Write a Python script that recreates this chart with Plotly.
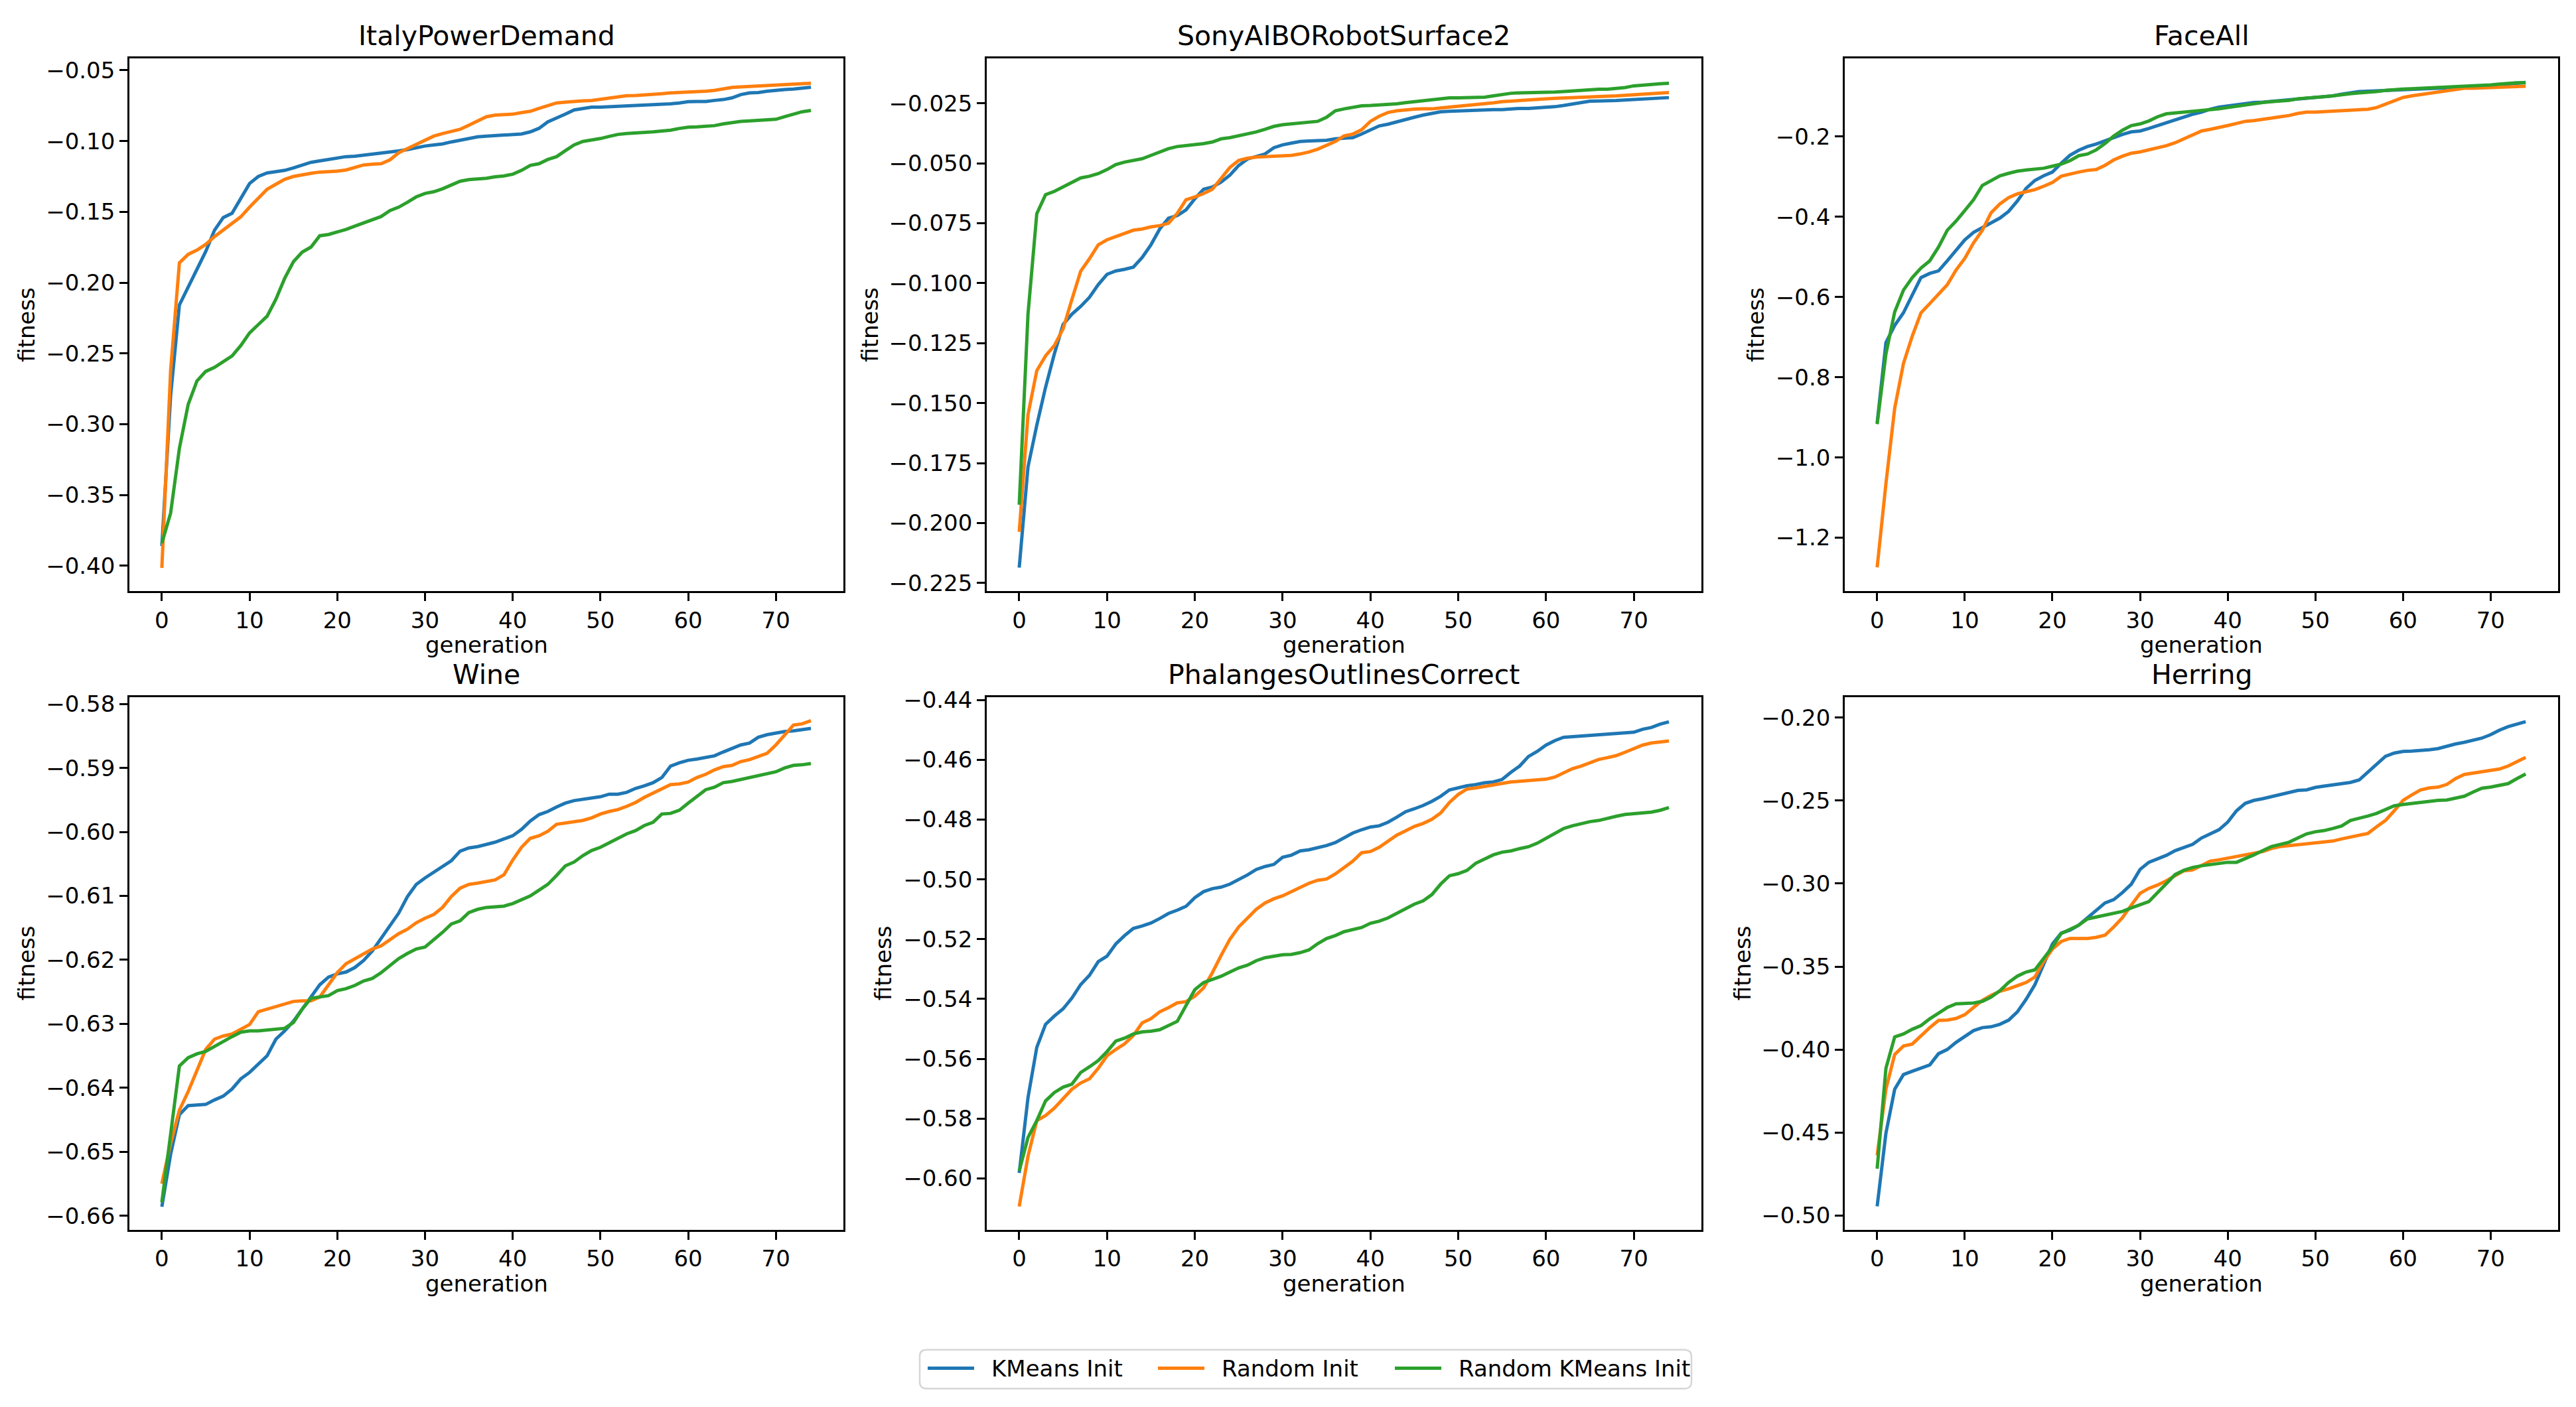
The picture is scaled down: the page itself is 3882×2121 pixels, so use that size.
import plotly.graph_objects as go

W, H = 3882, 2121
generations = list(range(75))
series_names = ["KMeans Init", "Random Init", "Random KMeans Init"]
colors = ["#1f77b4", "#ff7f0e", "#2ca02c"]

titles = ["ItalyPowerDemand", "SonyAIBORobotSurface2", "FaceAll",
          "Wine", "PhalangesOutlinesCorrect", "Herring"]

italy_kmeans = [-0.386, -0.28, -0.2157, -0.203, -0.191, -0.178, -0.163, -0.154, -0.151, -0.140,
                -0.130, -0.125, -0.1225, -0.1216, -0.1207, -0.119, -0.117, -0.115, -0.114, -0.113,
                -0.112, -0.111, -0.1107, -0.110, -0.109, -0.1083, -0.108, -0.107, -0.106, -0.1045,
                -0.1035, -0.1027, -0.102, -0.1006, -0.0994, -0.098, -0.097, -0.0965, -0.0962, -0.096,
                -0.0953, -0.095, -0.0935, -0.091, -0.0864, -0.084, -0.081, -0.078, -0.0767, -0.076,
                -0.076, -0.0757, -0.0754, -0.0751, -0.075, -0.0749, -0.0745, -0.074, -0.0737, -0.0731,
                -0.0722, -0.072, -0.072, -0.0713, -0.0707, -0.0695, -0.0672, -0.066, -0.0657, -0.0648,
                -0.064, -0.0636, -0.0633, -0.0627, -0.062]
italy_random = [-0.4015, -0.262, -0.186, -0.180, -0.177, -0.173, -0.1675, -0.163, -0.158, -0.1535,
                -0.1467, -0.140, -0.134, -0.1305, -0.127, -0.125, -0.1237, -0.1228, -0.1219, -0.1216,
                -0.1213, -0.1204, -0.1187, -0.1169, -0.1163, -0.116, -0.1133, -0.1083, -0.1053, -0.1024,
                -0.0994, -0.0965, -0.0947, -0.0929, -0.0917, -0.0888, -0.0858, -0.0828, -0.0817, -0.0814,
                -0.081, -0.0799, -0.079, -0.0769, -0.0749, -0.0731, -0.0725, -0.0719, -0.0716, -0.0713,
                -0.0704, -0.0695, -0.0686, -0.068, -0.0678, -0.0675, -0.0672, -0.0666, -0.066, -0.0657,
                -0.0654, -0.0654, -0.0648, -0.0642, -0.0633, -0.0621, -0.0618, -0.0615, -0.0612, -0.061,
                -0.0604, -0.060, -0.0598, -0.0595, -0.0592]
italy_rkmeans = [-0.384, -0.3627, -0.317, -0.286, -0.2695, -0.2627, -0.2598, -0.2556, -0.2518, -0.2444,
                 -0.2355, -0.2296, -0.2237, -0.2118, -0.197, -0.1852, -0.1784, -0.1749, -0.1669, -0.166,
                 -0.1645, -0.1624, -0.1601, -0.1577, -0.1553, -0.1533, -0.1491, -0.1467, -0.1432, -0.1394,
                 -0.137, -0.1358, -0.1337, -0.1308, -0.1284, -0.1272, -0.1269, -0.1263, -0.1252, -0.1246,
                 -0.1234, -0.1207, -0.1172, -0.116, -0.113, -0.111, -0.1068, -0.1027, -0.1003, -0.0994,
                 -0.0982, -0.0967, -0.0953, -0.0947, -0.0944, -0.0941, -0.0935, -0.0929, -0.0923, -0.0911,
                 -0.0902, -0.090, -0.0897, -0.0891, -0.0879, -0.087, -0.0861, -0.0858, -0.0855, -0.0852,
                 -0.0846, -0.0828, -0.081, -0.0793, -0.0784]

sony_kmeans = [-0.2186, -0.1766, -0.1592, -0.1434, -0.1295, -0.1172, -0.1129, -0.1097, -0.1059, -0.1006,
               -0.0963, -0.0949, -0.0942, -0.0933, -0.0893, -0.084, -0.0774, -0.0729, -0.0718, -0.0694,
               -0.0648, -0.0608, -0.0599, -0.0578, -0.0549, -0.0509, -0.0482, -0.047, -0.0461, -0.0435,
               -0.0423, -0.0416, -0.0409, -0.0407, -0.0407, -0.0404, -0.0398, -0.0395, -0.0393, -0.0378,
               -0.0362, -0.0344, -0.0337, -0.0327, -0.0315, -0.0308, -0.0299, -0.0292, -0.0285, -0.0283,
               -0.0281, -0.028, -0.028, -0.0278, -0.0276, -0.0276, -0.0273, -0.0271, -0.0271, -0.0269,
               -0.0267, -0.0264, -0.0259, -0.0253, -0.0245, -0.0241, -0.024, -0.024, -0.0238, -0.0236,
               -0.0234, -0.0233, -0.0233, -0.0231, -0.0226]
sony_random = [-0.2037, -0.1548, -0.1365, -0.1303, -0.126, -0.119, -0.1068, -0.095, -0.0898, -0.084,
               -0.0819, -0.0806, -0.0792, -0.0779, -0.0774, -0.0765, -0.076, -0.075, -0.0709, -0.0652,
               -0.064, -0.0626, -0.0608, -0.0561, -0.0517, -0.0488, -0.0479, -0.0474, -0.0472, -0.0472,
               -0.047, -0.0467, -0.0461, -0.0453, -0.0441, -0.0425, -0.0409, -0.0386, -0.0378, -0.036,
               -0.0325, -0.0304, -0.0288, -0.0281, -0.0276, -0.0274, -0.0273, -0.0273, -0.0269, -0.0266,
               -0.0262, -0.0259, -0.0257, -0.0253, -0.0248, -0.0243, -0.024, -0.0238, -0.0234, -0.0233,
               -0.0231, -0.0229, -0.0227, -0.0226, -0.0224, -0.0222, -0.022, -0.022, -0.0219, -0.0217,
               -0.0215, -0.0212, -0.021, -0.0206, -0.0205]
sony_rkmeans = [-0.1924, -0.1129, -0.071, -0.0631, -0.0617, -0.0599, -0.0578, -0.0561, -0.0554, -0.0543,
                -0.0526, -0.0505, -0.0495, -0.0489, -0.0481, -0.0467, -0.0453, -0.0439, -0.043, -0.0426,
                -0.0425, -0.0418, -0.0411, -0.0398, -0.0393, -0.0386, -0.0379, -0.0369, -0.0358, -0.0346,
                -0.0339, -0.0336, -0.0332, -0.033, -0.0325, -0.0308, -0.0281, -0.0273, -0.0266, -0.026,
                -0.0259, -0.0257, -0.0255, -0.0252, -0.0247, -0.0243, -0.024, -0.0234, -0.0231, -0.0227,
                -0.0227, -0.0226, -0.0226, -0.0224, -0.0219, -0.0213, -0.0208, -0.0206, -0.0206, -0.0205,
                -0.0205, -0.0203, -0.0201, -0.0198, -0.0196, -0.0192, -0.0191, -0.0191, -0.0189, -0.0184,
                -0.0177, -0.0173, -0.017, -0.0168, -0.0166]

face_kmeans = [-0.914, -0.7136, -0.671, -0.6395, -0.5956, -0.5518, -0.5413, -0.535, -0.51, -0.4829,
               -0.4578, -0.439, -0.4265, -0.416, -0.4035, -0.3868, -0.3608, -0.3294, -0.3096, -0.2981,
               -0.2887, -0.2668, -0.247, -0.2344, -0.2251, -0.2188, -0.2104, -0.2021, -0.1948, -0.1885,
               -0.1864, -0.1802, -0.1729, -0.1656, -0.1582, -0.1509, -0.1447, -0.1395, -0.1321, -0.1269,
               -0.1238, -0.1207, -0.1175, -0.1154, -0.1144, -0.1123, -0.1102, -0.1092, -0.1061, -0.105,
               -0.1029, -0.1008, -0.0988, -0.0946, -0.0904, -0.0883, -0.0873, -0.0862, -0.0852, -0.0841,
               -0.0831, -0.082, -0.081, -0.081, -0.080, -0.080, -0.0789, -0.0779, -0.0768, -0.0747,
               -0.0737, -0.0727, -0.0695, -0.0674, -0.0653]
face_random = [-1.274, -1.065, -0.8775, -0.7658, -0.6979, -0.6395, -0.6165, -0.5935, -0.5695, -0.533,
               -0.5038, -0.4651, -0.4338, -0.390, -0.3681, -0.3524, -0.343, -0.3378, -0.3326, -0.3242,
               -0.3148, -0.2992, -0.2929, -0.2887, -0.2846, -0.2825, -0.272, -0.2585, -0.2491, -0.2418,
               -0.2386, -0.2334, -0.2261, -0.223, -0.2157, -0.2052, -0.1958, -0.1864, -0.1823, -0.1781,
               -0.1729, -0.1676, -0.1624, -0.1603, -0.1582, -0.1541, -0.1509, -0.1478, -0.1426, -0.1395,
               -0.1395, -0.1384, -0.1374, -0.1363, -0.1342, -0.1322, -0.1322, -0.128, -0.1196, -0.1113,
               -0.1029, -0.0988, -0.0956, -0.0914, -0.0883, -0.0852, -0.082, -0.080, -0.080, -0.0789,
               -0.0779, -0.0779, -0.0768, -0.0758, -0.0747]
face_rkmeans = [-0.917, -0.7418, -0.6374, -0.5831, -0.5518, -0.5278, -0.510, -0.4756, -0.4338, -0.4109,
                -0.3848, -0.3576, -0.3221, -0.3096, -0.2981, -0.2919, -0.2866, -0.2835, -0.2814, -0.2793,
                -0.2741, -0.2689, -0.2605, -0.248, -0.2438, -0.2334, -0.2177, -0.199, -0.1843, -0.1729,
                -0.1687, -0.1614, -0.1509, -0.1436, -0.1415, -0.1395, -0.1374, -0.1363, -0.1342, -0.1311,
                -0.128, -0.1248, -0.1207, -0.1175, -0.1154, -0.1134, -0.1123, -0.1102, -0.1061, -0.105,
                -0.1029, -0.1008, -0.0988, -0.0956, -0.0935, -0.0914, -0.0904, -0.0883, -0.0852, -0.0831,
                -0.082, -0.081, -0.080, -0.080, -0.0789, -0.0779, -0.0768, -0.0758, -0.0737, -0.0727,
                -0.0716, -0.0695, -0.0674, -0.0664, -0.0664]

wine_kmeans = [-0.6586, -0.6504, -0.6442, -0.6428, -0.6427, -0.6426, -0.6419, -0.6413, -0.6402, -0.6386,
               -0.6376, -0.6363, -0.635, -0.6324, -0.6311, -0.6296, -0.6278, -0.6258, -0.6239, -0.6227,
               -0.6222, -0.6219, -0.6212, -0.6201, -0.6186, -0.6167, -0.6147, -0.6127, -0.6101, -0.6082,
               -0.6072, -0.6063, -0.6055, -0.6045, -0.603, -0.6025, -0.6023, -0.602, -0.6016, -0.6011,
               -0.6006, -0.5996, -0.5983, -0.5973, -0.5968, -0.5961, -0.5955, -0.5951, -0.5949, -0.5947,
               -0.5945, -0.5941, -0.5941, -0.5938, -0.5932, -0.5928, -0.5923, -0.5915, -0.5897, -0.5892,
               -0.5888, -0.5886, -0.5884, -0.5881, -0.5875, -0.587, -0.5864, -0.5861, -0.5852, -0.5848,
               -0.5845, -0.5843, -0.5842, -0.584, -0.5838]
wine_random = [-0.655, -0.6487, -0.6435, -0.6406, -0.6373, -0.634, -0.6324, -0.6319, -0.6316, -0.6309,
               -0.6301, -0.6281, -0.6277, -0.6273, -0.6269, -0.6265, -0.6264, -0.6264, -0.6258, -0.6239,
               -0.622, -0.6206, -0.6198, -0.6191, -0.6183, -0.6178, -0.6169, -0.6159, -0.6152, -0.6142,
               -0.6135, -0.6129, -0.6118, -0.6101, -0.6088, -0.6082, -0.608, -0.6078, -0.6075, -0.6067,
               -0.6044, -0.6024, -0.601, -0.6006, -0.5999, -0.5988, -0.5986, -0.5985, -0.5982, -0.5978,
               -0.5972, -0.5968, -0.5965, -0.596, -0.5954, -0.5946, -0.5939, -0.5933, -0.5926, -0.5925,
               -0.5922, -0.5915, -0.591, -0.5903, -0.5898, -0.5896, -0.589, -0.5887, -0.5882, -0.5877,
               -0.5864, -0.5849, -0.5833, -0.5831, -0.5826]
wine_rkmeans = [-0.6579, -0.6468, -0.6366, -0.6353, -0.6347, -0.6343, -0.6335, -0.6328, -0.632, -0.6313,
                -0.6311, -0.6311, -0.631, -0.6309, -0.6307, -0.6298, -0.6277, -0.626, -0.6258, -0.6256,
                -0.6248, -0.6245, -0.624, -0.6233, -0.6229, -0.622, -0.6209, -0.6198, -0.619, -0.6183,
                -0.618, -0.6169, -0.6157, -0.6144, -0.6139, -0.6126, -0.6121, -0.6118, -0.6117, -0.6116,
                -0.6112, -0.6106, -0.610, -0.6091, -0.6082, -0.6068, -0.6053, -0.6047, -0.6037, -0.6029,
                -0.6024, -0.6017, -0.601, -0.6003, -0.5998, -0.599, -0.5985, -0.5972, -0.5971, -0.5966,
                -0.5955, -0.5945, -0.5934, -0.593, -0.5923, -0.5921, -0.5918, -0.5915, -0.5911, -0.5908,
                -0.5906, -0.590, -0.5896, -0.5895, -0.5893]

phal_kmeans = [-0.5982, -0.573, -0.5562, -0.5485, -0.5457, -0.5433, -0.5397, -0.5352, -0.5321, -0.5275,
               -0.5257, -0.5216, -0.5188, -0.5164, -0.5156, -0.5146, -0.5131, -0.5114, -0.5103, -0.509,
               -0.5061, -0.5041, -0.5031, -0.5026, -0.5016, -0.5002, -0.4985, -0.4967, -0.4957, -0.495,
               -0.4926, -0.4919, -0.4905, -0.4901, -0.4894, -0.4887, -0.4877, -0.4862, -0.4845, -0.4834,
               -0.4825, -0.4821, -0.4809, -0.4792, -0.4774, -0.4764, -0.4753, -0.4739, -0.4722, -0.4701,
               -0.4694, -0.4687, -0.4683, -0.4677, -0.4674, -0.4666, -0.4642, -0.4621, -0.4589, -0.4572,
               -0.4551, -0.4536, -0.4525, -0.4523, -0.4519, -0.4518, -0.4516, -0.4515, -0.4513, -0.4511,
               -0.4508, -0.4498, -0.4492, -0.4481, -0.4473]
phal_random = [-0.6094, -0.5926, -0.5807, -0.579, -0.5765, -0.5734, -0.5702, -0.5681, -0.5667, -0.5632,
               -0.559, -0.5569, -0.555, -0.5522, -0.548, -0.5466, -0.5443, -0.5429, -0.5413, -0.5409,
               -0.5391, -0.5363, -0.5312, -0.5254, -0.520, -0.5159, -0.5128, -0.510, -0.5079, -0.5065,
               -0.5055, -0.5041, -0.5026, -0.5013, -0.5003, -0.4999, -0.4982, -0.496, -0.4939, -0.4911,
               -0.4907, -0.4893, -0.4873, -0.4852, -0.4838, -0.4823, -0.4813, -0.4799, -0.4778, -0.4743,
               -0.4716, -0.4698, -0.4694, -0.469, -0.4684, -0.4679, -0.4674, -0.4672, -0.4669, -0.4666,
               -0.4665, -0.4658, -0.4645, -0.463, -0.4621, -0.4609, -0.4599, -0.4593, -0.4586, -0.4575,
               -0.4564, -0.4551, -0.4544, -0.454, -0.4537]
phal_rkmeans = [-0.5975, -0.5863, -0.5807, -0.5741, -0.5713, -0.5695, -0.5685, -0.5646, -0.5627, -0.5606,
                -0.5576, -0.5541, -0.5531, -0.5517, -0.551, -0.5508, -0.5503, -0.5489, -0.5475, -0.5422,
                -0.5369, -0.5345, -0.5334, -0.5324, -0.531, -0.5296, -0.5287, -0.5272, -0.5262, -0.5257,
                -0.5252, -0.5251, -0.5245, -0.5236, -0.5215, -0.5198, -0.5188, -0.5175, -0.5167, -0.5161,
                -0.5147, -0.514, -0.5129, -0.5114, -0.510, -0.5083, -0.5072, -0.5051, -0.5016, -0.4988,
                -0.4981, -0.497, -0.4946, -0.4932, -0.4918, -0.4909, -0.4905, -0.4897, -0.4891, -0.4879,
                -0.4862, -0.4845, -0.483, -0.4821, -0.4813, -0.4807, -0.4803, -0.4795, -0.4789, -0.4783,
                -0.4781, -0.4778, -0.4775, -0.4769, -0.476]

herring_kmeans = [-0.4945, -0.4504, -0.4239, -0.4151, -0.4131, -0.4113, -0.4093, -0.4025, -0.400, -0.3957,
                  -0.3924, -0.3886, -0.3868, -0.3863, -0.3848, -0.3823, -0.3773, -0.3697, -0.3609, -0.3483,
                  -0.3364, -0.3299, -0.3281, -0.3251, -0.3205, -0.316, -0.3117, -0.3097, -0.3054, -0.3004,
                  -0.2915, -0.2872, -0.2852, -0.283, -0.2802, -0.2782, -0.2764, -0.2726, -0.2701, -0.2676,
                  -0.263, -0.2562, -0.2517, -0.2499, -0.2489, -0.2477, -0.2464, -0.2451, -0.2439, -0.2436,
                  -0.2421, -0.2413, -0.2406, -0.2403, -0.2391, -0.2376, -0.2328, -0.2277, -0.2234, -0.2214,
                  -0.2204, -0.2202, -0.2199, -0.2194, -0.2187, -0.2171, -0.2159, -0.2149, -0.2139, -0.2124,
                  -0.2103, -0.2076, -0.2055, -0.2038, -0.2025]
herring_random = [-0.4637, -0.4239, -0.403, -0.3979, -0.3967, -0.3916, -0.3868, -0.3825, -0.3823, -0.3813,
                  -0.379, -0.3747, -0.3704, -0.3674, -0.3649, -0.3634, -0.3614, -0.3596, -0.3563, -0.347,
                  -0.3394, -0.3349, -0.3331, -0.3331, -0.3331, -0.3324, -0.3311, -0.3261, -0.3205, -0.313,
                  -0.3059, -0.3029, -0.3009, -0.2983, -0.2953, -0.2923, -0.2918, -0.289, -0.2865, -0.2857,
                  -0.2847, -0.2832, -0.2822, -0.2817, -0.2807, -0.2789, -0.2777, -0.2772, -0.2767, -0.2759,
                  -0.2756, -0.2751, -0.2744, -0.2731, -0.2719, -0.2708, -0.2698, -0.2658, -0.262, -0.2562,
                  -0.2499, -0.2466, -0.2436, -0.2424, -0.2419, -0.2403, -0.2368, -0.2343, -0.2335, -0.233,
                  -0.2323, -0.231, -0.2292, -0.2265, -0.224]
herring_rkmeans = [-0.4718, -0.4113, -0.3924, -0.3906, -0.3878, -0.3856, -0.3815, -0.3778, -0.3747, -0.3725,
                   -0.3722, -0.372, -0.371, -0.3684, -0.3646, -0.3596, -0.3558, -0.3533, -0.352, -0.3452,
                   -0.3382, -0.3301, -0.3276, -0.3251, -0.3213, -0.3203, -0.3193, -0.3183, -0.3168, -0.3147,
                   -0.3127, -0.3109, -0.3054, -0.2999, -0.2946, -0.292, -0.2903, -0.2893, -0.2885, -0.2877,
                   -0.2872, -0.2872, -0.2852, -0.2827, -0.2802, -0.2777, -0.2764, -0.2751, -0.2726, -0.2701,
                   -0.2688, -0.2681, -0.2668, -0.2653, -0.262, -0.2608, -0.2593, -0.2577, -0.2552, -0.2532,
                   -0.2524, -0.2517, -0.2512, -0.2504, -0.2499, -0.2497, -0.2487, -0.2474, -0.2449, -0.2426,
                   -0.2419, -0.2411, -0.2398, -0.2368, -0.234]

panel_data = [
    (italy_kmeans, italy_random, italy_rkmeans),
    (sony_kmeans, sony_random, sony_rkmeans),
    (face_kmeans, face_random, face_rkmeans),
    (wine_kmeans, wine_random, wine_rkmeans),
    (phal_kmeans, phal_random, phal_rkmeans),
    (herring_kmeans, herring_random, herring_rkmeans),
]

# y tick settings per panel (tick0, dtick, format) and axis ranges
y_ticks = [(-0.40, 0.05, ".2f"), (-0.225, 0.025, ".3f"), (-1.2, 0.2, ".1f"),
           (-0.66, 0.01, ".2f"), (-0.60, 0.02, ".2f"), (-0.50, 0.05, ".2f")]
y_ranges = [(-0.418, -0.0417), (-0.2285, -0.0063), (-1.3336, -0.0058),
            (-0.6622, -0.5789), (-0.6172, -0.439), (-0.5086, -0.1876)]
x_range = (-3.7, 77.7)

# layout in pixels
col_px = [(195, 1271), (1487, 2564), (2780, 3855)]
row_px = [(73, 885), (1046, 1858)]
ylabel_x_px = [[40, 1311, 2646], [40, 1331, 2626]]
xlabel_y_px = [966, 1940]
legend_box_px = (1386, 2549, 2041, 2100)     # x0, x1, ytop, ybottom
legend_item_px = [1398, 1745, 2102]          # left edge of each line sample
legend_sample_len, legend_text_gap, legend_mid_y = 70, 24, 2069

FONT = "DejaVu Sans"
TICK_SIZE = 34
TITLE_SIZE = 41


def px_x(v):
    return v / W


def px_y(v):
    return 1 - v / H


fig = go.Figure()
annotations = []
shapes = []
layout_axes = {}

for i in range(6):
    r, c = divmod(i, 3)
    idx = "" if i == 0 else str(i + 1)
    xa, ya = "x" + idx, "y" + idx
    for s in range(3):
        fig.add_trace(go.Scatter(
            x=generations, y=panel_data[i][s], mode="lines",
            name=series_names[s], legendgroup=series_names[s], showlegend=False,
            line=dict(color=colors[s], width=5),
            xaxis=xa, yaxis=ya,
        ))
    x0, x1 = col_px[c]
    yt, yb = row_px[r]
    common = dict(showline=True, linecolor="black", linewidth=2.6, mirror=True,
                  ticks="outside", ticklen=12, tickwidth=2.6, tickcolor="black",
                  showgrid=False, zeroline=False,
                  tickfont=dict(family=FONT, size=TICK_SIZE, color="black"))
    layout_axes["xaxis" + idx] = dict(domain=[px_x(x0), px_x(x1)], range=list(x_range), anchor=ya,
                                      tick0=0, dtick=10, **common)
    t0, dt, fmt = y_ticks[i]
    layout_axes["yaxis" + idx] = dict(domain=[px_y(yb), px_y(yt)], range=list(y_ranges[i]), anchor=xa,
                                      tick0=t0, dtick=dt, tickformat=fmt, **common)
    annotations.append(dict(text=titles[i], x=px_x((x0 + x1) / 2), y=px_y(yt),
                            xref="paper", yref="paper", xanchor="center", yanchor="bottom",
                            yshift=8, showarrow=False,
                            font=dict(family=FONT, size=TITLE_SIZE, color="black")))
    annotations.append(dict(text="generation", x=px_x((x0 + x1) / 2), y=px_y(xlabel_y_px[r]),
                            xref="paper", yref="paper", xanchor="center", yanchor="middle",
                            showarrow=False,
                            font=dict(family=FONT, size=TICK_SIZE, color="black")))
    annotations.append(dict(text="fitness", x=px_x(ylabel_x_px[r][c]), y=px_y((yt + yb) / 2),
                            xref="paper", yref="paper", xanchor="center", yanchor="middle",
                            textangle=-90, showarrow=False,
                            font=dict(family=FONT, size=TICK_SIZE, color="black")))

# Figure-level legend (matplotlib style: rounded light-grey frame, long line samples)
bx0, bx1, byt, byb = legend_box_px
rad = 10
rx, ry = rad / W, rad / H
X0, X1, YT, YB = px_x(bx0), px_x(bx1), px_y(byt), px_y(byb)
path = (f"M{X0 + rx},{YB} L{X1 - rx},{YB} Q{X1},{YB} {X1},{YB + ry} "
        f"L{X1},{YT - ry} Q{X1},{YT} {X1 - rx},{YT} L{X0 + rx},{YT} "
        f"Q{X0},{YT} {X0},{YT - ry} L{X0},{YB + ry} Q{X0},{YB} {X0 + rx},{YB} Z")
shapes.append(dict(type="path", path=path, xref="paper", yref="paper",
                   line=dict(color="#d6d6d6", width=2.5), fillcolor="white", layer="above"))
for s in range(3):
    lx = legend_item_px[s]
    shapes.append(dict(type="line", xref="paper", yref="paper",
                       x0=px_x(lx), x1=px_x(lx + legend_sample_len),
                       y0=px_y(legend_mid_y), y1=px_y(legend_mid_y),
                       line=dict(color=colors[s], width=5), layer="above"))
    annotations.append(dict(text=series_names[s], x=px_x(lx + legend_sample_len + legend_text_gap),
                            y=px_y(legend_mid_y), xref="paper", yref="paper",
                            xanchor="left", yanchor="middle", showarrow=False,
                            font=dict(family=FONT, size=TICK_SIZE, color="black")))

fig.update_layout(
    width=W, height=H,
    margin=dict(l=0, r=0, t=0, b=0),
    paper_bgcolor="white", plot_bgcolor="white",
    font=dict(family=FONT, size=TICK_SIZE, color="black"),
    showlegend=False,
    annotations=annotations,
    shapes=shapes,
    **layout_axes,
)

fig.write_html("out.html", config={"displayModeBar": False},
               post_script="document.body.style.margin='0';document.body.style.overflow='hidden';")
